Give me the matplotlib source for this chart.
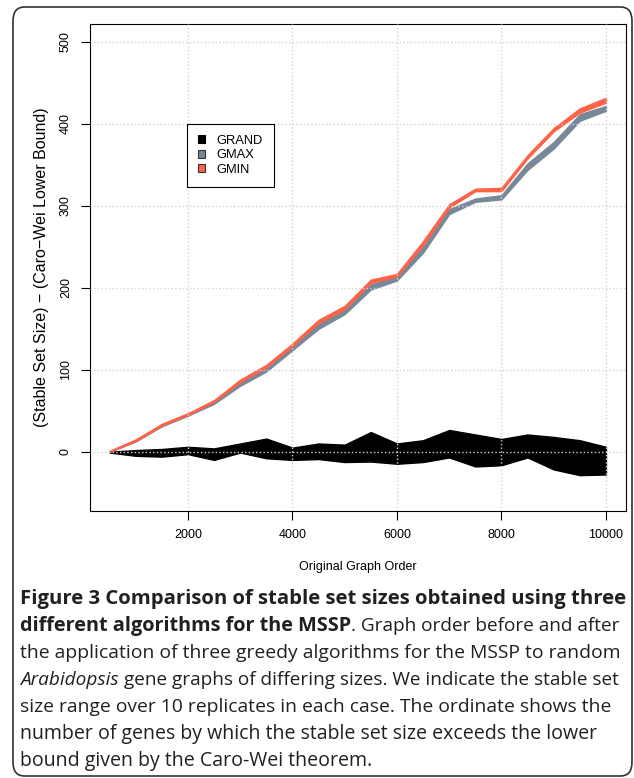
import matplotlib.pyplot as plt
from matplotlib.patches import Patch, FancyBboxPatch

# graph orders (x) and the stable-set-size excess ranges over 10 replicates
orders = [500, 1000, 1500, 2000, 2500, 3000, 3500, 4000, 4500, 5000,
          5500, 6000, 6500, 7000, 7500, 8000, 8500, 9000, 9500, 10000]

grand_lo = [-1, -5, -6, -3, -10, -1, -8, -10, -9, -12.6,
            -12, -14.7, -12.6, -7, -18, -16.5, -7, -21.6, -28.6, -27.8]
grand_hi = [0, 2, 3.3, 6, 4, 10, 16, 5, 10, 8.6,
            24, 10, 14, 26.5, 21, 15.5, 21, 18, 14, 6]

gmax_lo = [0, 12.5, 31, 44, 58.5, 80.5, 98, 124, 150, 168,
           198, 209, 243, 290, 305, 308, 344, 370, 404, 416]
gmax_hi = [0.5, 13.5, 33, 46, 62, 85, 102, 130, 156, 174,
           204, 215, 250, 296, 309, 313, 352, 378, 412, 422]

gmin_lo = [0, 13, 32, 45, 61, 85, 103, 129, 157, 174,
           206, 214, 252, 298, 318, 318, 358, 391, 414, 426]
gmin_hi = [1, 15, 34, 47, 63, 88, 106, 132, 161, 178,
           210, 217, 257, 302, 321, 322, 362, 395, 419, 432]

xticks = [2000, 4000, 6000, 8000, 10000]
yticks = [0, 100, 200, 300, 400, 500]

GREY = '#778899'
TOMATO = '#FF6347'

plt.rcParams['font.family'] = ['Liberation Sans', 'DejaVu Sans']

W, H = 634, 778
fig = plt.figure(figsize=(W / 100, H / 100), dpi=100)

# rounded frame around the whole figure
frame = FancyBboxPatch((13 / W, 1 - 776 / H), 619 / W, 769 / H,
                       boxstyle='round,pad=0,rounding_size=0.018',
                       transform=fig.transFigure, facecolor='none',
                       edgecolor='#333333', linewidth=1.2)
fig.patches.append(frame)

ax = fig.add_axes([89.7 / W, 1 - 510.7 / H, (625.8 - 89.7) / W, (510.7 - 24) / H])

ax.fill_between(orders, grand_lo, grand_hi, facecolor='black', edgecolor='black', lw=1)
ax.fill_between(orders, gmax_lo, gmax_hi, facecolor=GREY, edgecolor=GREY, lw=1)
ax.fill_between(orders, gmin_lo, gmin_hi, facecolor=TOMATO, edgecolor=TOMATO, lw=1)

ax.set_xlim(120, 10380)
ax.set_ylim(-72, 522)
ax.set_xticks(xticks)
ax.set_yticks(yticks)
ax.set_axisbelow(False)
ax.grid(True, color='lightgray', linestyle=':', linewidth=1)

for s in ax.spines.values():
    s.set_linewidth(0.8)
    s.set_color('black')
ax.tick_params(direction='out', length=6.3, width=0.8, labelsize=9, color='black')
ax.tick_params(axis='x', pad=7)
ax.tick_params(axis='y', pad=6.5)
for lab in ax.get_yticklabels():
    lab.set_rotation(90)
    lab.set_va('center')

ax.set_xlabel('Original Graph Order', fontsize=9, labelpad=14)
ax.set_ylabel('(Stable Set Size) \u2212 (Caro\u2212Wei Lower Bound)', fontsize=11.5, labelpad=8)

handles = [Patch(facecolor='black', edgecolor='black', lw=0.8),
           Patch(facecolor=GREY, edgecolor='#333333', lw=0.8),
           Patch(facecolor=TOMATO, edgecolor='#333333', lw=0.8)]
leg = ax.legend(handles, ['GRAND', 'GMAX', 'GMIN'], loc='upper left',
                bbox_to_anchor=(0.181, 0.7946), borderaxespad=0, fontsize=9.3,
                fancybox=False, edgecolor='black', framealpha=1,
                handlelength=0.56, handleheight=0.56, handletextpad=0.9,
                labelspacing=0.18, borderpad=0.85)
leg.get_frame().set_linewidth(0.8)

# caption
fig.canvas.draw()
renderer = fig.canvas.get_renderer()
CAP = dict(family='Open Sans', color='#231f20', va='center', ha='left')
B = dict(fontweight='bold')
N = dict()
I = dict(style='italic')


def width_of(s, size, **kw):
    t = fig.text(0, 0, s, fontsize=size, **CAP, **kw)
    w = t.get_window_extent(renderer).width
    t.remove()
    return w


fs_b = 13 * 603 / width_of('Figure 3 Comparison of stable set sizes obtained using three', 13, **B)
fs_n = 13 * 603 / width_of('the application of three greedy algorithms for the MSSP to random', 13)


def line(y, runs, x0=20, max_w=600):
    # natural width first, shrink the line if it would pass the right margin
    sizes = [fs_b if kw is B else fs_n for _, kw, _ in runs]
    sp = width_of('a a', fs_n) - width_of('aa', fs_n)
    total = sum(width_of(s, sz, **kw) + (sp if gap else 0)
                for (s, kw, gap), sz in zip(runs, sizes))
    k = min(1.0, max_w / total)
    x = x0
    for (s, kw, gap), sz in zip(runs, sizes):
        t = fig.text(x / W, 1 - y / H, s, fontsize=sz * k, **CAP, **kw)
        x += t.get_window_extent(renderer).width + (sp * k if gap else 0)


line(599, [('Figure 3 Comparison of stable set sizes obtained using three', B, False)], max_w=604)
line(626, [('different algorithms for the MSSP', B, False),
           ('. Graph order before and after', N, False)])
line(653, [('the application of three greedy algorithms for the MSSP to random', N, False)], max_w=604)
line(680, [('Arabidopsis', I, True),
           ('gene graphs of differing sizes. We indicate the stable set', N, False)])
line(707, [('size range over 10 replicates in each case. The ordinate shows the', N, False)], max_w=592)
line(734, [('number of genes by which the stable set size exceeds the lower', N, False)])
line(761, [('bound given by the Caro-Wei theorem.', N, False)])

fig.savefig('out.png', dpi=100)
